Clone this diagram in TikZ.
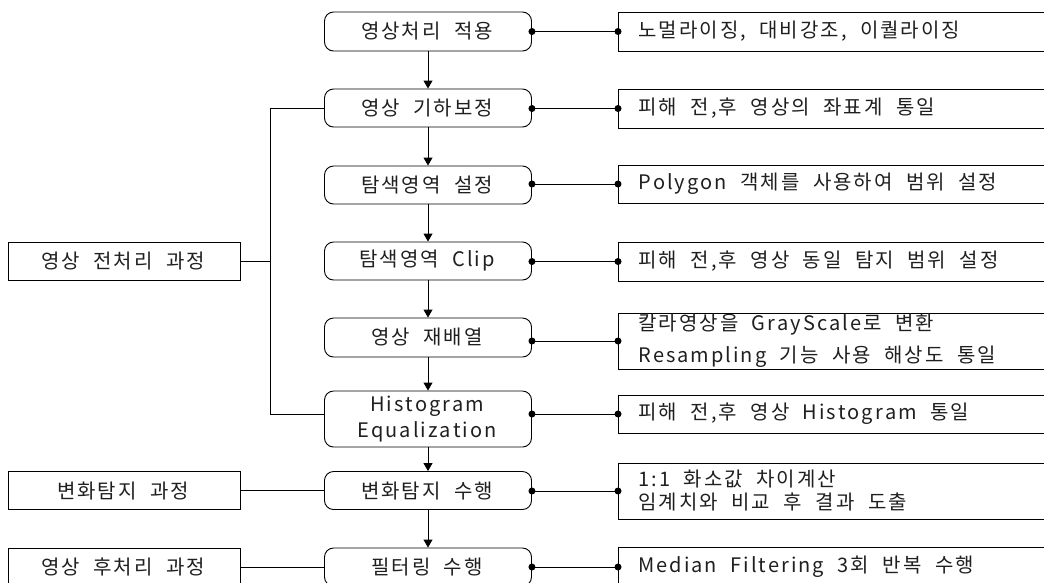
\documentclass[tikz,border=0pt]{standalone}
\usepackage{fontspec}
\setmainfont{Noto Sans CJK KR}
\usetikzlibrary{arrows.meta}
% explicit tracking: a kern after every character, fixed word spaces
\makeatletter
\newcommand\trkamt{2pt}
\newcommand\trkspace{11.5pt}
\def\trk#1{\trk@loop#1\trk@stop}
\def\trk@stop{}
\def\trk@loop{\futurelet\trk@next\trk@check}
\def\trk@check{%
  \ifx\trk@next\trk@stop
    \let\trk@do\@gobble
  \else\ifx\trk@next\@sptoken
    \let\trk@do\trk@sp
  \else
    \let\trk@do\trk@ch
  \fi\fi
  \trk@do}
\def\trk@ch#1{#1\kern\trkamt\relax\trk@loop}
\expandafter\def\expandafter\trk@sp\space{\hskip\trkspace\relax\trk@loop}
\makeatother
\newcommand\boxfont{\fontsize{20}{26}\selectfont}
\newcommand\notefont{\fontsize{20}{32}\selectfont}
\newcommand\tightfont{\fontsize{20}{23}\selectfont}
\begin{document}
\begin{tikzpicture}[x=1pt,y=-1pt,
  every node/.style={font=\boxfont, text=black!88},
  proc/.style={draw, rounded corners=9pt, minimum width=207pt, inner sep=0pt, align=center, line width=0.9pt},
  note/.style={draw, anchor=west, text width=400pt, inner xsep=20pt, inner ysep=0pt, align=left, font=\notefont, line width=0.9pt},
  stage/.style={draw, minimum width=232pt, minimum height=38pt, inner sep=0pt, line width=0.9pt},
  flow/.style={-{Triangle[width=9pt,length=8pt]}, line width=0.9pt},
  link/.style={line width=0.9pt},
  dot/.style={circle, fill=black, inner sep=0pt, minimum size=7pt}
]
\useasboundingbox (0,0) rectangle (1044,582);

% centre column
\node[proc, minimum height=39pt] (c1) at (428,31.5) {\trk{영상처리 적용}};
\node[proc, minimum height=38pt] (c2) at (428,108) {\trk{영상 기하보정}};
\node[proc, minimum height=38pt] (c3) at (428,185) {\trk{탐색영역 설정}};
\node[proc, minimum height=38pt] (c4) at (428,261) {\trk{탐색영역 Clip}};
\node[proc, minimum height=39pt] (c5) at (428,337.5) {\trk{영상 재배열}};
\node[proc, minimum height=56pt] (c6) at (428,419) {\trk{Histogram}\\\trk{Equalization}};
\node[proc, minimum height=38pt] (c7) at (428,490.5) {\trk{변화탐지 수행}};
\node[proc, minimum height=38pt] (c8) at (428,567) {\trk{필터링 수행}};

% right notes
\node[note, minimum height=39pt] (r1) at (618,31.5) {\trk{노멀라이징, 대비강조, 이퀄라이징}};
\node[note, minimum height=39pt] (r2) at (618,108.5) {\trk{피해 전,후 영상의 좌표계 통일}};
\node[note, minimum height=38pt] (r3) at (618,184) {\trk{Polygon 객체를 사용하여 범위 설정}};
\node[note, minimum height=39pt] (r4) at (618,261.5) {\trk{피해 전,후 영상 동일 탐지 범위 설정}};
\node[note, minimum height=56pt] (r5) at (618,341) {\trk{칼라영상을 GrayScale로 변환}\\\trk{Resampling 기능 사용 해상도 통일}};
\node[note, minimum height=38pt] (r6) at (618,414) {\trk{피해 전,후 영상 Histogram 통일}};
\node[note, minimum height=56pt, font=\tightfont] (r7) at (618,491) {\trk{1:1 화소값 차이계산}\\\trk{임계치와 비교 후 결과 도출}};
\node[note, minimum height=40pt] (r8) at (618,567) {\trk{Median Filtering 3회 반복 수행}};

% left stages
\node[stage] (l1) at (124,261) {\trk{영상 전처리 과정}};
\node[stage] (l2) at (124,490.5) {\trk{변화탐지 과정}};
\node[stage] (l3) at (124,567) {\trk{영상 후처리 과정}};

% flow arrows
\draw[flow] (c1) -- (c2);
\draw[flow] (c2) -- (c3);
\draw[flow] (c3) -- (c4);
\draw[flow] (c4) -- (c5);
\draw[flow] (c5) -- (c6);
\draw[flow] (c6) -- (c7);
\draw[flow] (c7) -- (c8);

% centre to notes
\foreach \i in {1,2,3,4,5,6,7,8}{
  \draw[link] (c\i.east |- r\i.west) -- (r\i.west);
  \node[dot] at (c\i.east |- r\i.west) {};
  \node[dot] at (r\i.west) {};
}

% left bracket
\coordinate (bx) at (270,0);
\draw[link] (c2.west) -| (bx |- r6.west) -- (c6.west |- r6.west);
\draw[link] (l1.east) -- (l1.east -| bx);
\draw[link] (l2.east) -- (c7.west);
\draw[link] (l3.east) -- (c8.west);
\end{tikzpicture}
\end{document}
